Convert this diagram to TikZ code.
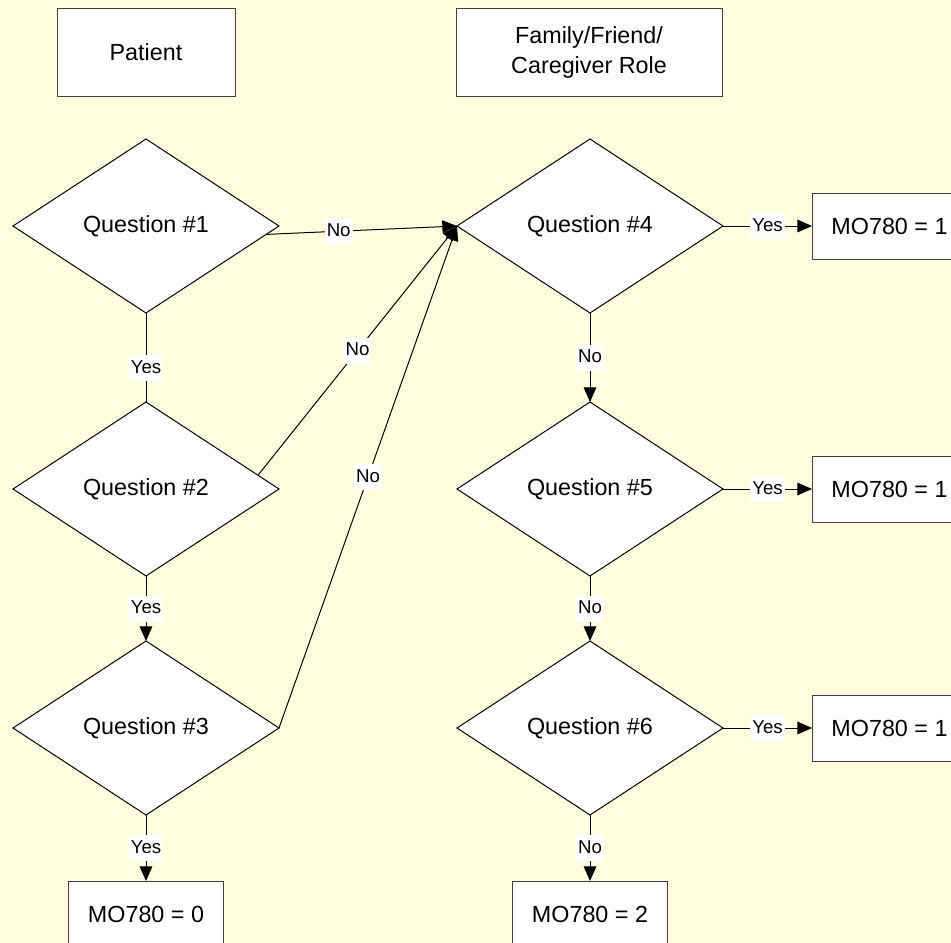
\documentclass[tikz,border=0pt]{standalone}
\usepackage{fontspec}
\setmainfont{Liberation Sans}
\usetikzlibrary{shapes.geometric, positioning, arrows.meta}
\definecolor{paper}{RGB}{255,255,224}
\definecolor{boxline}{RGB}{64,64,64}
\tikzset{
	>={Triangle[length=11pt,width=9.5pt]},
	every node/.style={outer sep=0pt},
	role/.style={draw=boxline, fill=white, minimum width=133.5pt, minimum height=66pt, align=center, font=\fontsize{17.5pt}{22.5pt}\selectfont},
	question/.style={diamond, draw, fill=white, aspect=1.53, inner sep=1pt, minimum width=199.5pt, minimum height=130.5pt, font=\fontsize{17.5pt}{21pt}\selectfont},
	score/.style={draw=boxline, fill=white, minimum width=116.25pt, minimum height=49.5pt, font=\fontsize{17.5pt}{21pt}\selectfont},
	answer/.style={fill=white, inner xsep=1.5pt, inner ysep=3pt, text height=10.5pt, text depth=3pt, font=\fontsize{14pt}{16pt}\selectfont},
}

\begin{document}
\begin{tikzpicture}[x=0.75pt, y=-0.75pt, line width=0.75pt]
	\path[use as bounding box, fill=paper] (0,0) rectangle (951,943);
	\clip (0,0) rectangle (951,943);

	\node[role] (PATIENT) at (146,52) {Patient};
	\node[role, right=165.75pt of PATIENT, minimum width=199.5pt] (FAMILY) {Family/Friend/\\Caregiver Role};

	% patient column
	\node[question, below=32.25pt of PATIENT] (Q1) {Question \#1};
	\node[question, below=66.75pt of Q1] (Q2) {Question \#2};
	\node[question, below=48.75pt of Q2] (Q3) {Question \#3};
	\node[score, below=49.5pt of Q3] (MOzero) {MO780 = 0};

	% family column
	\node[question, right=133.5pt of Q1] (Q4) {Question \#4};
	\node[question, below=66.75pt of Q4] (Q5) {Question \#5};
	\node[question, below=48.75pt of Q5] (Q6) {Question \#6};
	\node[score, below=49.5pt of Q6] (MOtwo) {MO780 = 2};
	\node[score, right=66.75pt of Q4] (MOoneA) {MO780 = 1};
	\node[score, right=66.75pt of Q5] (MOoneB) {MO780 = 1};
	\node[score, right=66.75pt of Q6] (MOoneC) {MO780 = 1};

	\draw (Q1) -- node[answer, pos=0.62]{Yes} (Q2);
	\draw[->] (Q2) -- node[answer]{Yes} (Q3);
	\draw[->] (Q3) -- node[answer]{Yes} (MOzero);

	\draw[->] (Q1.-4) -- node[answer, pos=0.38]{No} (Q4.west);
	\draw[->] (Q2.7) -- node[answer]{No} (Q4.west);
	\draw[->] (Q3.east) -- node[answer]{No} (Q4.west);

	\draw[->] (Q4) -- node[answer]{No} (Q5);
	\draw[->] (Q5) -- node[answer]{No} (Q6);
	\draw[->] (Q6) -- node[answer]{No} (MOtwo);

	\draw[->] (Q4) -- node[answer]{Yes} (MOoneA);
	\draw[->] (Q5) -- node[answer]{Yes} (MOoneB);
	\draw[->] (Q6) -- node[answer]{Yes} (MOoneC);
\end{tikzpicture}
\end{document}
